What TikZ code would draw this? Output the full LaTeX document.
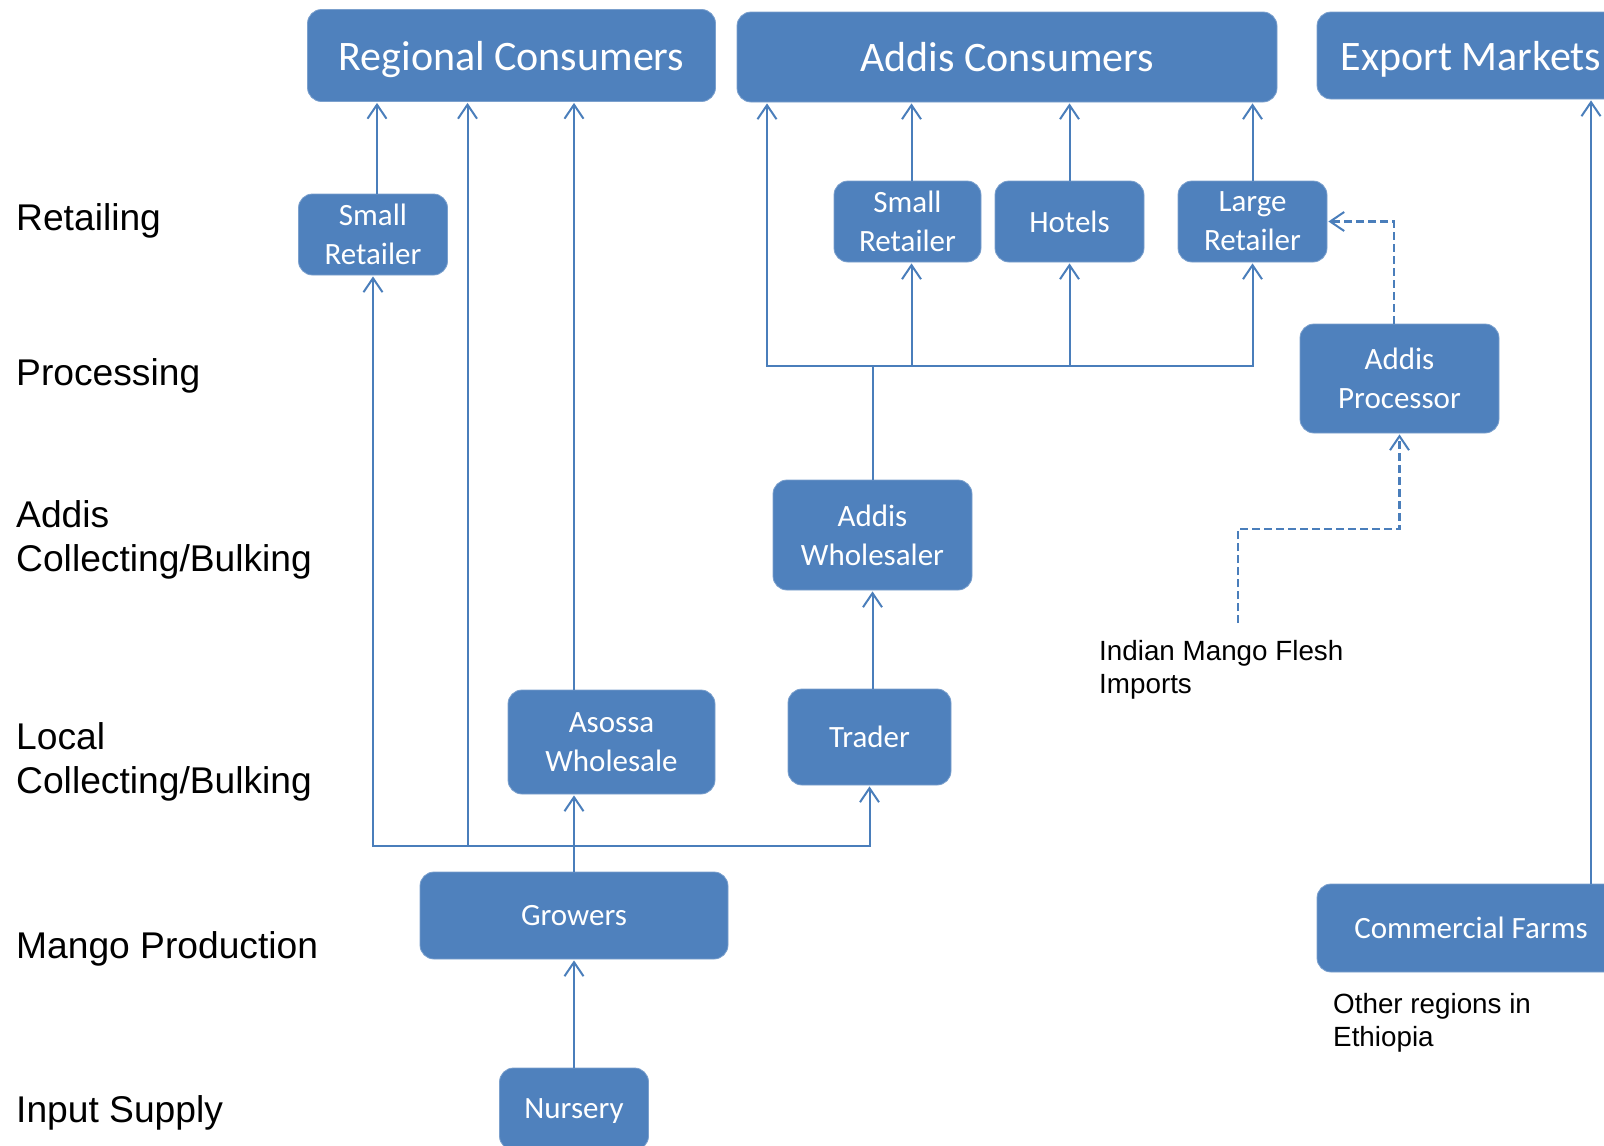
\documentclass[tikz,border=0pt]{standalone}
\usepackage{fontspec}
\setmainfont{Carlito}
\newfontfamily\lblfont{Liberation Sans}
\usetikzlibrary{arrows.meta,calc}
\definecolor{boxblue}{RGB}{79,129,189}
\definecolor{lineblue}{RGB}{74,126,187}
\tikzset{
  box/.style={rectangle, rounded corners=14pt, fill=boxblue, draw=boxblue!75!white, line width=0.8pt,
    text=white, align=center, inner sep=0pt, text depth=0pt, font=\fontsize{31}{39}\selectfont},
  bigbox/.style={box, font=\fontsize{42}{50}\selectfont},
  conn/.style={draw=lineblue, line width=2pt},
  arr/.style={conn, -{Straight Barb[length=14pt,width=19pt,line width=2pt]}, shorten >=1pt},
  darr/.style={arr, dash pattern=on 8pt off 4pt, line width=2.4pt},
  lbl/.style={font=\lblfont\fontsize{37.2}{44}\selectfont, inner sep=0pt, align=left, text=black},
  note/.style={font=\lblfont\fontsize{27.8}{33}\selectfont, inner sep=0pt, align=left, text=black}
}
\begin{document}
\begin{tikzpicture}[x=1pt,y=-1pt]
\useasboundingbox (0,0) rectangle (1604,1146);
\clip (0,0) rectangle (1604,1146);
% top boxes
\node[bigbox, minimum width=408pt, minimum height=92pt] (rc) at (511.5,55.5) {Regional Consumers};
\node[bigbox, minimum width=540pt, minimum height=90pt] (ac) at (1007,57) {Addis Consumers};
\node[bigbox, minimum width=308pt, minimum height=87pt] (em) at (1471,55.5) {Export Markets};
% other boxes
\node[box, minimum width=149pt, minimum height=81pt] (srL) at (373,234.5) {Small\\Retailer};
\node[box, minimum width=147pt, minimum height=81pt] (srA) at (907.5,221.5) {Small\\Retailer};
\node[box, minimum width=149pt, minimum height=81pt] (ho) at (1069.5,221.5) {Hotels};
\node[box, minimum width=149pt, minimum height=81pt] (lr) at (1252.5,221.5) {Large\\Retailer};
\node[box, minimum width=199pt, minimum height=109pt] (ap) at (1399.5,378.5) {Addis\\Processor};
\node[box, minimum width=199pt, minimum height=110pt] (aw) at (872.5,535) {Addis\\Wholesaler};
\node[box, minimum width=207pt, minimum height=104pt] (asw) at (611.5,742) {Asossa\\Wholesale};
\node[box, minimum width=163pt, minimum height=96pt] (tr) at (869.5,737) {Trader};
\node[box, minimum width=308pt, minimum height=87pt] (gr) at (574,915.5) {Growers};
\node[box, minimum width=308pt, minimum height=88pt] (cf) at (1471,928) {Commercial Farms};
\node[box, minimum width=149pt, minimum height=82pt] (nu) at (574,1109) {Nursery};
% left labels
\node[lbl, anchor=base west] (l1) at (16,230) {Retailing};
\node[lbl, anchor=base west] (l2) at (16,385) {Processing};
\node[lbl, anchor=north west] (l3) at (16,500) {Addis\\Collecting/Bulking};
\node[lbl, anchor=north west] (l4) at (16,722) {Local\\Collecting/Bulking};
\node[lbl, anchor=base west] (l5) at (16,958) {Mango Production};
\node[lbl, anchor=base west] (l6) at (16,1122) {Input Supply};
% notes
\node[note, anchor=north west] (n1) at (1099,640) {Indian Mango Flesh\\Imports};
\node[note, anchor=north west] (n2) at (1333,993) {Other regions in\\Ethiopia};
% coordinates
\coordinate (gj) at (574,846);
\coordinate (lj) at (467.5,846);
\coordinate (srx) at (377,0);
\coordinate (aj) at (872.5,366);
\coordinate (al) at (767,366);
\coordinate (sax) at (911.5,366);
\coordinate (dpx) at (1394,0);
\coordinate (imp) at (1238,623);
\coordinate (ib) at (1238,529);
\coordinate (exx) at (1591,0);
% connectors: growers side
\draw[conn] (gr.north) -- (gj);
\draw[arr] (gj) -| (srL.south);
\draw[arr] (gj) -| (tr.south);
\draw[arr] (gj) -- (gj |- asw.south);
\draw[arr] (lj) -- (lj |- rc.south);
\draw[arr] (asw.north -| gj) -- (gj |- rc.south);
\draw[arr] (srL.north -| srx) -- (rc.south -| srx);
\draw[arr] (nu.north) -- (gr.south);
% addis side
\draw[arr] (aw.south |- tr.north) -- (aw.south);
\draw[conn] (aw.north) -- (aj);
\draw[arr] (aj) -- (al) -- (al |- ac.south);
\draw[arr] (aj) -- (sax) -- (sax |- srA.south);
\draw[arr] (aj) -| (ho.south);
\draw[arr] (aj) -| (lr.south);
\draw[arr] (srA.north -| sax) -- (ac.south -| sax);
\draw[arr] (ho.north) -- (ho.north |- ac.south);
\draw[arr] (lr.north) -- (lr.north |- ac.south);
% dashed
\draw[darr] (ap.north -| dpx) |- (lr.east);
\draw[darr] (imp) -- (ib) -| (ap.south);
% export
\draw[arr] (cf.north -| exx) -- (em.south -| exx);
\end{tikzpicture}
\end{document}
